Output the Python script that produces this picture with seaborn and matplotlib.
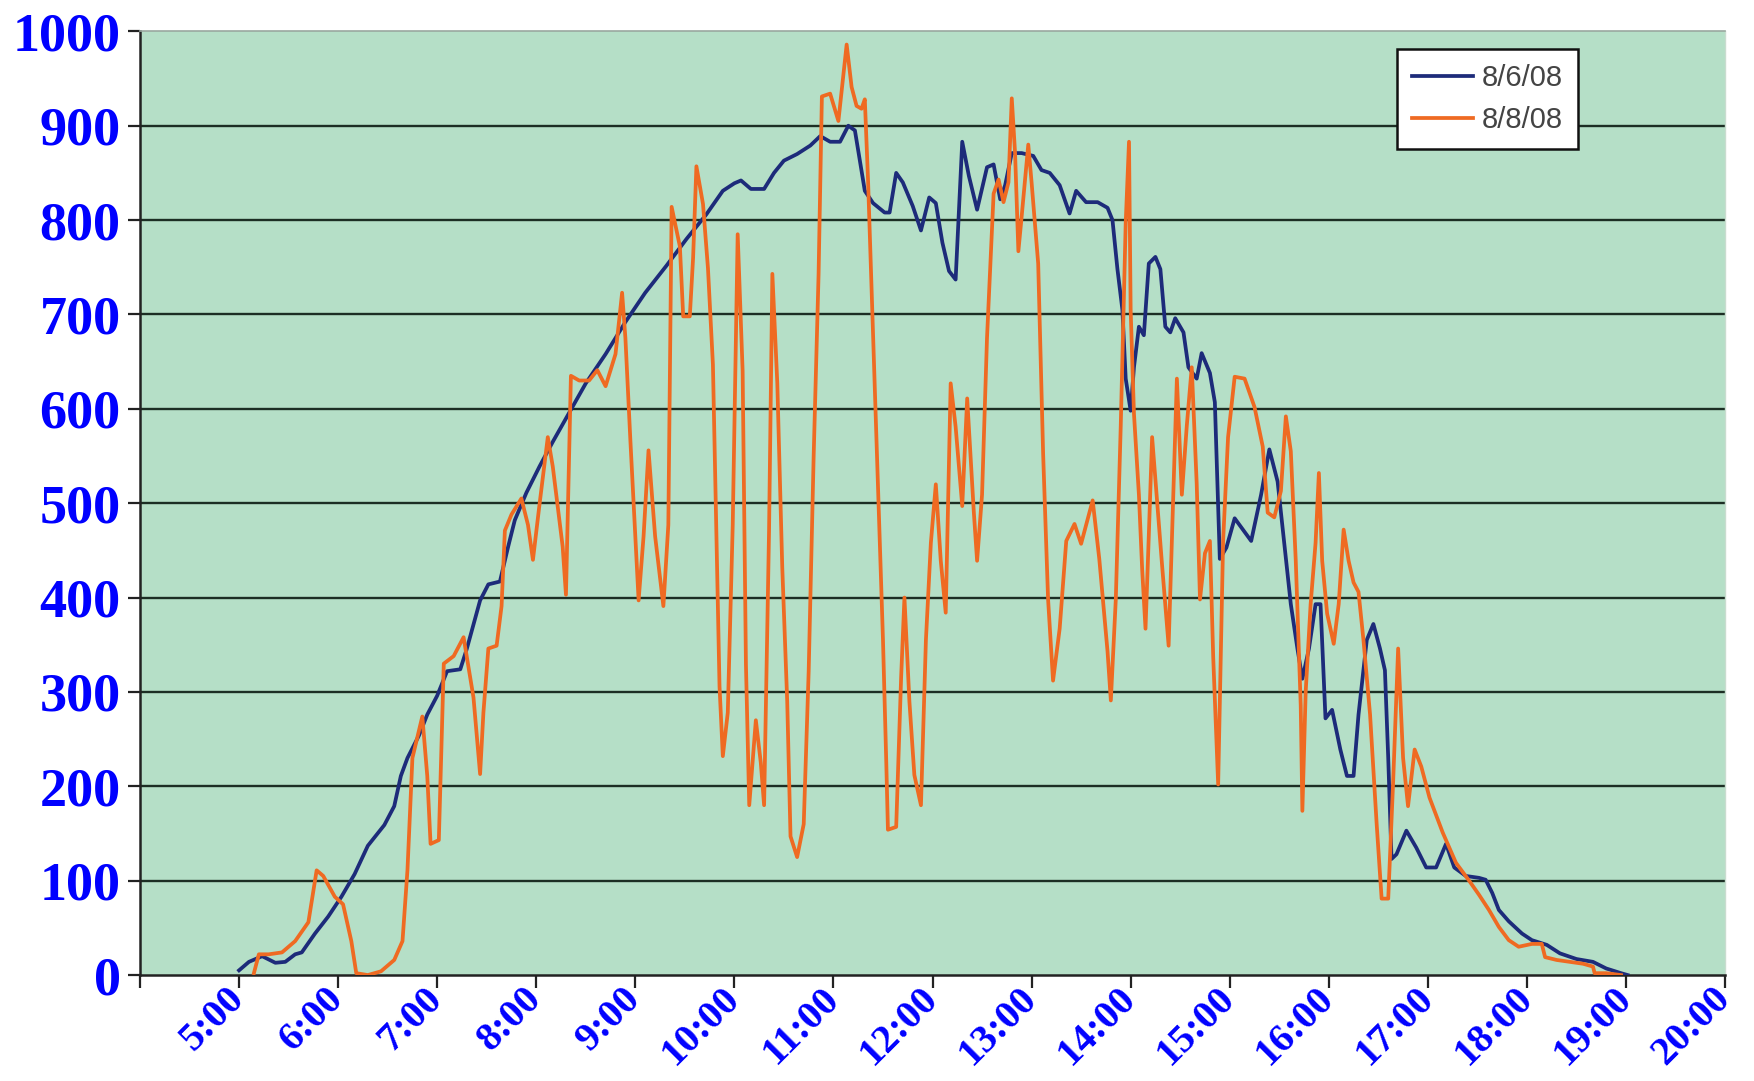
import pandas as pd
import seaborn as sns
import matplotlib.pyplot as plt

# irradiance readings (time of day, W/m2)
times_0806 = ["5:00", "5:06", "5:14", "5:22", "5:28", "5:34", "5:38", "5:46", "5:54", "6:02",
              "6:10", "6:18", "6:28", "6:34", "6:38", "6:42", "6:49", "6:54", "7:00", "7:06",
              "7:14", "7:18", "7:26", "7:31", "7:38", "7:43", "7:47", "7:54", "8:02", "8:10",
              "8:20", "8:30", "8:42", "8:54", "9:06", "9:19", "9:31", "9:43", "9:53", "10:00",
              "10:04", "10:10", "10:18", "10:24", "10:30", "10:38", "10:46", "10:52", "10:58", "11:04",
              "11:09", "11:13", "11:16", "11:19", "11:24", "11:31", "11:34", "11:38", "11:42", "11:48",
              "11:53", "11:58", "12:02", "12:06", "12:10", "12:14", "12:18", "12:22", "12:27", "12:33",
              "12:37", "12:41", "12:44", "12:48", "12:54", "13:01", "13:06", "13:11", "13:17", "13:23",
              "13:27", "13:33", "13:40", "13:46", "13:49", "13:52", "13:55", "13:57", "14:00", "14:02",
              "14:05", "14:08", "14:11", "14:15", "14:18", "14:21", "14:24", "14:27", "14:32", "14:35",
              "14:40", "14:43", "14:48", "14:51", "14:53", "14:54", "14:58", "15:03", "15:08", "15:13",
              "15:19", "15:24", "15:29", "15:33", "15:37", "15:41", "15:44", "15:48", "15:52", "15:55",
              "15:58", "16:02", "16:07", "16:11", "16:15", "16:18", "16:23", "16:27", "16:31", "16:34",
              "16:36", "16:38", "16:41", "16:47", "16:53", "16:59", "17:05", "17:11", "17:16", "17:23",
              "17:31", "17:35", "17:39", "17:43", "17:49", "17:57", "18:03", "18:12", "18:20", "18:30",
              "18:40", "18:48", "18:57", "19:01"]
vals_0806 = [5, 14, 20, 13, 14, 22, 24, 44, 62, 83,
             107, 137, 159, 179, 211, 230, 254, 276, 296, 322,
             324, 346, 397, 414, 417, 454, 482, 511, 539, 565,
             596, 627, 658, 692, 723, 752, 780, 806, 831, 839,
             842, 833, 833, 850, 863, 870, 879, 889, 883, 883,
             900, 895, 863, 831, 818, 808, 808, 850, 840, 815,
             789, 824, 818, 776, 746, 737, 883, 847, 811, 856,
             859, 822, 837, 871, 871, 868, 853, 850, 837, 807,
             831, 819, 819, 813, 800, 748, 705, 632, 598, 644,
             687, 678, 754, 761, 748, 687, 681, 696, 681, 644,
             632, 659, 638, 607, 496, 441, 453, 484, 472, 460,
             509, 557, 523, 458, 393, 346, 314, 346, 393, 393,
             272, 281, 239, 211, 211, 276, 355, 372, 346, 323,
             230, 123, 128, 153, 135, 114, 114, 139, 114, 105,
             103, 101, 87, 69, 57, 44, 37, 32, 23, 17,
             14, 7, 2, 0]

times_0808 = ["5:09", "5:12", "5:18", "5:26", "5:34", "5:42", "5:47", "5:51", "5:58", "6:03",
              "6:08", "6:11", "6:18", "6:26", "6:34", "6:39", "6:42", "6:45", "6:51", "6:54",
              "6:56", "7:01", "7:04", "7:10", "7:16", "7:22", "7:26", "7:28", "7:31", "7:36",
              "7:39", "7:41", "7:45", "7:51", "7:55", "7:58", "8:02", "8:07", "8:10", "8:16",
              "8:18", "8:21", "8:26", "8:32", "8:37", "8:42", "8:48", "8:52", "8:54", "8:57",
              "9:02", "9:05", "9:08", "9:12", "9:17", "9:20", "9:22", "9:27", "9:29", "9:33",
              "9:35", "9:37", "9:41", "9:44", "9:47", "9:51", "9:53", "9:56", "9:59", "10:02",
              "10:05", "10:07", "10:09", "10:13", "10:16", "10:18", "10:21", "10:23", "10:26", "10:29",
              "10:32", "10:34", "10:38", "10:42", "10:45", "10:48", "10:51", "10:53", "10:58", "11:03",
              "11:08", "11:11", "11:14", "11:17", "11:19", "11:21", "11:24", "11:27", "11:30", "11:32",
              "11:33", "11:38", "11:41", "11:43", "11:46", "11:49", "11:53", "11:56", "11:59", "12:02",
              "12:05", "12:08", "12:11", "12:14", "12:18", "12:21", "12:25", "12:27", "12:30", "12:33",
              "12:37", "12:40", "12:43", "12:46", "12:48", "12:50", "12:52", "12:54", "12:58", "13:00",
              "13:04", "13:07", "13:10", "13:13", "13:17", "13:21", "13:26", "13:30", "13:37", "13:41",
              "13:46", "13:48", "13:51", "13:54", "13:57", "13:59", "14:00", "14:02", "14:05", "14:07",
              "14:09", "14:11", "14:13", "14:16", "14:19", "14:23", "14:26", "14:28", "14:31", "14:34",
              "14:37", "14:40", "14:42", "14:45", "14:48", "14:50", "14:53", "14:56", "14:59", "15:03",
              "15:09", "15:15", "15:20", "15:23", "15:27", "15:31", "15:34", "15:37", "15:40", "15:43",
              "15:44", "15:46", "15:49", "15:52", "15:54", "15:56", "15:59", "16:03", "16:06", "16:09",
              "16:12", "16:15", "16:18", "16:21", "16:25", "16:29", "16:32", "16:36", "16:39", "16:42",
              "16:45", "16:48", "16:52", "16:56", "17:01", "17:09", "17:17", "17:25", "17:31", "17:37",
              "17:43", "17:49", "17:55", "18:03", "18:09", "18:11", "18:18", "18:26", "18:34", "18:40",
              "18:41", "18:48", "18:57"]
vals_0808 = [2, 22, 22, 24, 36, 56, 111, 105, 83, 75,
             36, 2, 0, 4, 16, 36, 111, 230, 274, 211,
             139, 143, 330, 338, 358, 294, 213, 278, 346, 349,
             391, 471, 488, 505, 477, 440, 499, 570, 539, 454,
             403, 635, 630, 630, 641, 624, 658, 723, 675, 567,
             397, 465, 556, 465, 391, 477, 814, 772, 698, 698,
             760, 857, 817, 749, 647, 306, 232, 278, 477, 785,
             640, 329, 180, 270, 225, 180, 471, 743, 627, 432,
             290, 147, 125, 160, 322, 549, 743, 931, 934, 905,
             986, 941, 921, 918, 928, 840, 678, 517, 355, 225,
             154, 157, 316, 400, 290, 212, 180, 355, 458, 520,
             439, 384, 627, 581, 497, 611, 491, 439, 509, 675,
             828, 843, 819, 840, 929, 871, 767, 804, 880, 840,
             754, 552, 398, 312, 367, 460, 478, 457, 503, 441,
             343, 291, 398, 582, 797, 883, 705, 595, 509, 429,
             367, 466, 570, 503, 435, 349, 521, 632, 509, 582,
             644, 521, 398, 447, 460, 337, 202, 460, 570, 634,
             632, 602, 560, 490, 485, 513, 592, 555, 439, 286,
             174, 300, 393, 458, 532, 439, 383, 351, 393, 472,
             439, 416, 406, 355, 276, 160, 81, 81, 206, 346,
             230, 179, 239, 221, 188, 151, 119, 100, 85, 69,
             51, 37, 30, 33, 33, 19, 16, 14, 12, 9,
             2, 2, 0]

series_labels = ["8/6/08", "8/8/08"]
hour_ticks = list(range(4, 21))
hour_labels = [""] + [f"{h}:00" for h in range(5, 21)]
value_ticks = list(range(0, 1001, 100))


def to_hours(t):
    h, m = t.split(":")
    return int(h) + int(m) / 60


df = pd.concat([
    pd.DataFrame({"time": [to_hours(t) for t in times_0806], "value": vals_0806, "day": series_labels[0]}),
    pd.DataFrame({"time": [to_hours(t) for t in times_0808], "value": vals_0808, "day": series_labels[1]}),
])

fig = plt.figure(figsize=(17.54, 10.81), dpi=100)
ax = fig.add_axes([0.0798, 0.098, 0.9037, 0.873])
ax.set_facecolor("#b5dfc7")

for v in value_ticks[1:-1]:
    ax.axhline(v, color="#1c2e24", lw=1.7, zorder=1)

sns.lineplot(data=df, x="time", y="value", hue="day", ax=ax, sort=False,
             palette={series_labels[0]: "#1d2b7a", series_labels[1]: "#ef6a22"},
             linewidth=2.7, zorder=3)

ax.set_xlim(4, 20)
ax.set_ylim(0, 1000)
ax.set_xticks(hour_ticks)
ax.set_xticklabels(hour_labels)
ax.set_yticks(value_ticks)
ax.set_xlabel("")
ax.set_ylabel("")

for lab in ax.get_yticklabels():
    lab.set_fontfamily("Liberation Serif")
    lab.set_fontweight("bold")
    lab.set_fontsize(39)
    lab.set_color("#0000ff")
for lab in ax.get_xticklabels():
    lab.set_fontfamily("Liberation Serif")
    lab.set_fontweight("bold")
    lab.set_fontsize(29)
    lab.set_color("#0000ff")
    lab.set_rotation(45)
    lab.set_ha("right")
    lab.set_va("center")
    lab.set_rotation_mode("anchor")

ax.tick_params(axis="both", direction="out", length=9, width=1.6, color="#222222")
ax.tick_params(axis="y", pad=5)
ax.tick_params(axis="x", pad=4)

ax.spines["left"].set_color("#222222")
ax.spines["left"].set_linewidth(1.8)
ax.spines["bottom"].set_color("#222222")
ax.spines["bottom"].set_linewidth(1.8)
ax.spines["top"].set_color("#9aa8a0")
ax.spines["top"].set_linewidth(1.2)
ax.spines["right"].set_color("#c9dccf")
ax.spines["right"].set_linewidth(1.0)

leg = ax.legend(loc="upper right", bbox_to_anchor=(0.907, 0.981), frameon=True, fancybox=False,
                prop={"family": "Liberation Sans", "size": 21}, handlelength=2.1,
                borderpad=0.5, labelspacing=0.5, handletextpad=0.3, borderaxespad=0)
leg.get_frame().set_edgecolor("#111111")
leg.get_frame().set_linewidth(1.8)
leg.get_frame().set_facecolor("white")
leg.get_frame().set_alpha(1)
for txt in leg.get_texts():
    txt.set_color("#444444")
for line in leg.get_lines():
    line.set_linewidth(2.7)

fig.savefig("out.png", dpi=100, facecolor="white")
